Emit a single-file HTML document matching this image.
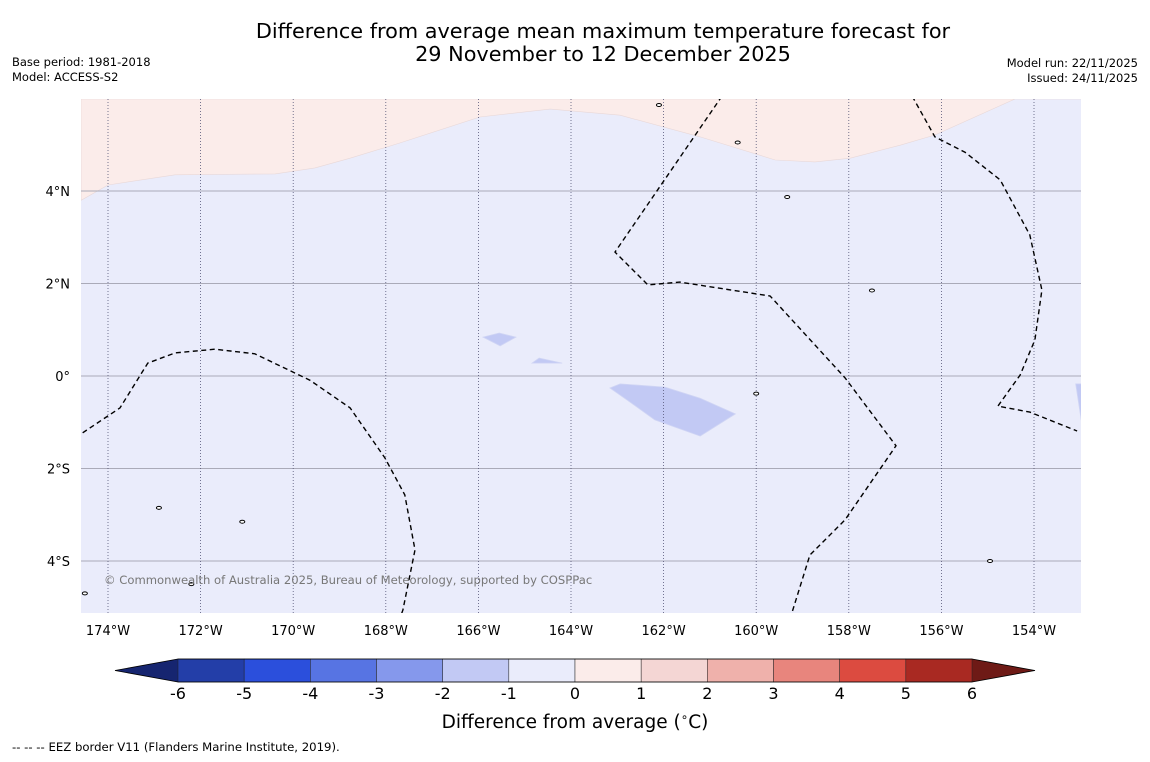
<!DOCTYPE html>
<html><head><meta charset="utf-8"><style>
body{margin:0;background:#fff;width:1150px;height:758px;overflow:hidden;font-family:"DejaVu Sans","Liberation Sans",sans-serif}
svg text{font-family:"DejaVu Sans","Liberation Sans",sans-serif}
</style></head><body>
<svg id="s" width="1150" height="758" xmlns="http://www.w3.org/2000/svg">
<text x="603" y="38" font-size="20.8" text-anchor="middle">Difference from average mean maximum temperature forecast for</text>
<text x="603" y="61" font-size="20.8" text-anchor="middle">29 November to 12 December 2025</text>
<text x="12" y="66" font-size="11.5">Base period: 1981-2018</text>
<text x="12" y="81" font-size="11.5">Model: ACCESS-S2</text>
<text x="1138" y="67" font-size="11.5" text-anchor="end">Model run: 22/11/2025</text>
<text x="1138" y="82" font-size="11.5" text-anchor="end">Issued: 24/11/2025</text>
<defs><clipPath id="mc"><rect x="81" y="99" width="1000" height="514"/></clipPath></defs>
<g id="map" clip-path="url(#mc)"></g>
<g id="axes"></g>
<text x="104" y="584" font-size="11.6" fill="#777">© Commonwealth of Australia 2025, Bureau of Meteorology, supported by COSPPac</text>
<g id="cbar"></g>
<text x="575" y="728" font-size="18.5" text-anchor="middle">Difference from average (<tspan font-size="12" dy="-7">∘</tspan><tspan dy="7">C)</tspan></text>
<text x="12" y="751" font-size="11.7">--  --  -- EEZ border V11 (Flanders Marine Institute, 2019).</text>
</svg>
<script>
const lonTicks=[-174,-172,-170,-168,-166,-164,-162,-160,-158,-156,-154];
const latTicks=[4,2,0,-2,-4];
const pinkBoundary=[[-174.58,3.8],[-174,4.13],[-172.55,4.35],[-170.39,4.37],[-169.53,4.5],[-168.77,4.71],[-167.69,5.04],[-165.97,5.6],[-164.45,5.77],[-162.94,5.64],[-161.21,5.17],[-159.59,4.67],[-158.73,4.63],[-157.97,4.71],[-156.89,4.99],[-156.14,5.21],[-154.41,5.99]];
const bluePatches=[
[[-165.9,0.84],[-165.55,0.93],[-165.19,0.84],[-165.53,0.65]],
[[-164.84,0.28],[-164.69,0.39],[-164.19,0.28]],
[[-163.16,-0.26],[-162.94,-0.17],[-161.97,-0.24],[-161.21,-0.48],[-160.45,-0.82],[-161.21,-1.3],[-162.19,-0.95],[-162.73,-0.56]],
[[-153.1,-0.17],[-152.9,-0.17],[-152.9,-0.95],[-152.98,-0.95]]];
const eezA=[[-160.74,6.05],[-163.05,2.68],[-162.34,1.97],[-161.65,2.03],[-159.70,1.73],[-158.08,-0.04],[-156.98,-1.51],[-158.08,-3.11],[-158.84,-3.87],[-159.21,-5.06],[-159.25,-5.2]];
const eezB=[[-156.63,6.05],[-156.14,5.17],[-155.49,4.84],[-154.73,4.24],[-154.09,3.05],[-153.83,1.86],[-153.98,0.78],[-154.30,0.02],[-154.78,-0.65],[-154.09,-0.78],[-153.07,-1.19]];
const eezC=[[-174.7,-1.33],[-173.74,-0.69],[-173.14,0.28],[-172.55,0.50],[-171.69,0.58],[-170.83,0.48],[-169.64,-0.09],[-168.77,-0.69],[-168.02,-1.77],[-167.59,-2.57],[-167.37,-3.76],[-167.63,-5.06],[-167.68,-5.2]];
const islands=[[-159.33,3.87],[-157.5,1.85],[-172.9,-2.85],[-172.2,-4.5],[-160.0,-0.38],[-154.95,-4.0],[-162.1,5.86],[-160.4,5.05],[-171.1,-3.15],[-174.5,-4.7]];
const cbLevels=[-6,-5,-4,-3,-2,-1,0,1,2,3,4,5,6];
const cbColors=["#233ea8","#2b4fdc","#5774e3","#8598ec","#c2c9f4","#eaecfb","#fbecea","#f4d6d4","#efb1ab","#e8857d","#dc4b40","#a92922"];
const cbLow="#162570", cbHigh="#6e1a16";

const NS="http://www.w3.org/2000/svg";
const X=lon=>108+(lon+174)*46.3;
const Y=lat=>376-lat*46.25;
const CX=v=>178+(v+6)*(972-178)/12;
function mk(tag,attrs,parent){const e=document.createElementNS(NS,tag);for(const k in attrs)e.setAttribute(k,attrs[k]);parent.appendChild(e);return e;}
const pts=a=>a.map(p=>X(p[0]).toFixed(1)+","+Y(p[1]).toFixed(1)).join(" ");
const map=document.getElementById('map'),axes=document.getElementById('axes'),cb=document.getElementById('cbar');

let e=mk('rect',{x:81,y:99,width:1000,height:514,fill:'#eaecfb'},map);


e=mk('polygon',{points:"81,99 "+pts(pinkBoundary)+" 1081,99",fill:'#fbecea',stroke:'#e8d8d8','stroke-width':0.6},map);


bluePatches.forEach(p=>{
 const q=mk('polygon',{points:pts(p),fill:'#c2c9f4',stroke:'#d0d5f4','stroke-width':0.8},map);
 
 
});
latTicks.forEach(t=>{
 const l=mk('line',{x1:81,x2:1081,y1:Y(t),y2:Y(t),stroke:'#aaaab8','stroke-width':1},map);
 
 
});
lonTicks.forEach(t=>{
 const l=mk('line',{x1:X(t),x2:X(t),y1:99,y2:613,stroke:'#555577','stroke-width':0.8,'stroke-dasharray':'1,2'},map);
 
 
});
[eezA,eezB,eezC].forEach(a=>{
 const l=mk('polyline',{points:pts(a),fill:'none',stroke:'#000','stroke-width':1.4,'stroke-dasharray':'5,3.5'},map);
 
 
});
islands.forEach(p=>{
 const c=mk('ellipse',{cx:X(p[0]),cy:Y(p[1]),rx:2.5,ry:1.5,fill:'#fff',stroke:'#000','stroke-width':1},map);
 
 
});
latTicks.forEach(t=>{
 const lab=t===0?"0°":Math.abs(t)+"°"+(t>0?"N":"S");
 const tx=mk('text',{x:70,y:Y(t)+5,'font-size':13,'text-anchor':'end'},axes);
 tx.textContent=lab;
 
 
});
lonTicks.forEach(t=>{
 const tx=mk('text',{x:X(t),y:635,'font-size':13,'text-anchor':'middle'},axes);
 tx.textContent=Math.abs(t)+"°W";
 
 
});
const y0=659,y1=682;
e=mk('polygon',{points:`${CX(-6)},${y0} ${CX(-6)},${y1} 115,${(y0+y1)/2}`,fill:cbLow},cb);


e=mk('polygon',{points:`${CX(6)},${y0} ${CX(6)},${y1} 1035,${(y0+y1)/2}`,fill:cbHigh},cb);


cbColors.forEach((c,i)=>{
 const r=mk('rect',{x:CX(cbLevels[i]),y:y0,width:CX(cbLevels[i+1])-CX(cbLevels[i]),height:y1-y0,fill:c,stroke:'#222','stroke-width':0.5},cb);
 
 
});
e=mk('polygon',{points:`${CX(-6)},${y0} ${CX(6)},${y0} 1035,${(y0+y1)/2} ${CX(6)},${y1} ${CX(-6)},${y1} 115,${(y0+y1)/2}`,fill:'none',stroke:'#000','stroke-width':0.8},cb);


cbLevels.forEach(v=>{
 const tx=mk('text',{x:CX(v),y:699,'font-size':16,'text-anchor':'middle'},cb);
 tx.textContent=v;
 
 
});
</script>
</body></html>
